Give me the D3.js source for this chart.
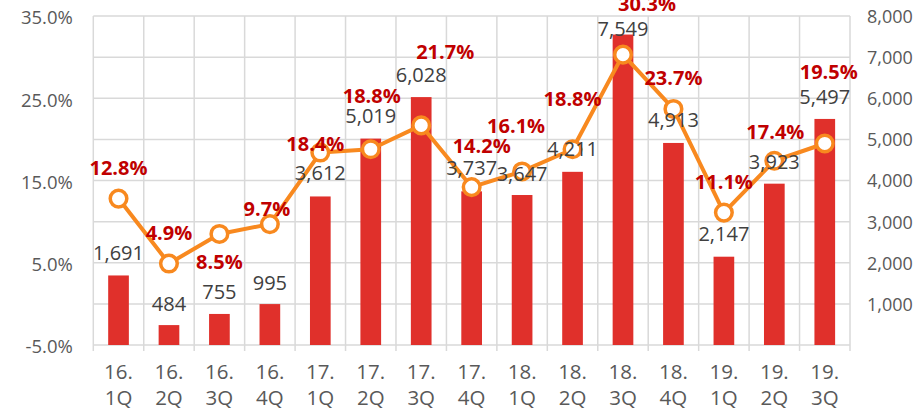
<!DOCTYPE html>
<html>
<head>
<meta charset="utf-8">
<script src="https://cdn.jsdelivr.net/npm/d3@7"></script>
<style>
  html, body { margin: 0; padding: 0; background: #ffffff; }
  svg { display: block; }
  text { font-family: "Open Sans", "Lato", sans-serif; }
</style>
</head>
<body>
<svg id="chart" width="918" height="410"></svg>
<script>
// ---- data ----
const categories = ["16.\n1Q","16.\n2Q","16.\n3Q","16.\n4Q","17.\n1Q","17.\n2Q","17.\n3Q","17.\n4Q",
                    "18.\n1Q","18.\n2Q","18.\n3Q","18.\n4Q","19.\n1Q","19.\n2Q","19.\n3Q"];
const barValues = [1691, 484, 755, 995, 3612, 5019, 6028, 3737, 3647, 4211, 7549, 4913, 2147, 3923, 5497];
const pctValues = [12.8, 4.9, 8.5, 9.7, 18.4, 18.8, 21.7, 14.2, 16.1, 18.8, 30.3, 23.7, 11.1, 17.4, 19.5];
const leftTicks = [-5, 5, 15, 25, 35];
const rightTicks = [1000, 2000, 3000, 4000, 5000, 6000, 7000, 8000];

// ---- label nudges (layout, in px) ----
const pctLabelDx = [0, 0, 0, -3, -5, 1, 24, 10, -6, 0, 24, 0, 0, 1, 4];
const pctLabelDy = [-31, -31, 28, -16, -9, -54, -74, -42, -46, -51, -51, -31, -31, -29, -72];
const valLabelDy = [-23, -22, -22, -22, -24, -23, -23, -24, -22, -23, -6, -23, -23, -22, -22];

// ---- layout ----
const plot = { left: 93.3, right: 850, top: 16, bottom: 345 };
const svg = d3.select("#chart");

const xGrid = d3.scaleBand().domain(categories).range([plot.left, plot.right]).padding(0);
const x = d3.scaleBand().domain(categories).range([plot.left, plot.right])
  .paddingInner(0.59).paddingOuter(0.295);
const yL = d3.scaleLinear().domain([-5, 35]).range([plot.bottom, plot.top]);
const yR = d3.scaleLinear().domain([0, 8000]).range([plot.bottom, plot.top]);

const gridColor = "#d9d9d9";

// horizontal gridlines
svg.append("g").selectAll("line")
  .data(d3.range(0, 8001, 1000))
  .join("line")
  .attr("x1", plot.left).attr("x2", plot.right)
  .attr("y1", d => yR(d)).attr("y2", d => yR(d))
  .attr("stroke", gridColor).attr("stroke-width", 1.5);

// vertical gridlines + tick marks
const bounds = categories.map(c => xGrid(c)).concat([plot.right]);
svg.append("g").selectAll("line")
  .data(bounds)
  .join("line")
  .attr("x1", d => d).attr("x2", d => d)
  .attr("y1", plot.top).attr("y2", plot.bottom + 6)
  .attr("stroke", gridColor).attr("stroke-width", 1.5);

// bars
svg.append("g").selectAll("rect")
  .data(barValues)
  .join("rect")
  .attr("x", (d, i) => x(categories[i]))
  .attr("width", x.bandwidth())
  .attr("y", d => yR(d))
  .attr("height", d => yR(0) - yR(d))
  .attr("fill", "#e0302b");

// line
const cx = i => xGrid(categories[i]) + xGrid.bandwidth() / 2;
const line = d3.line().x((d, i) => cx(i)).y(d => yL(d));
svg.append("path")
  .datum(pctValues)
  .attr("d", line)
  .attr("fill", "none")
  .attr("stroke", "#f8891f")
  .attr("stroke-width", 4)
  .attr("stroke-linejoin", "round");

svg.append("g").selectAll("circle")
  .data(pctValues)
  .join("circle")
  .attr("cx", (d, i) => cx(i))
  .attr("cy", d => yL(d))
  .attr("r", 8.3)
  .attr("fill", "#ffffff")
  .attr("stroke", "#f8891f")
  .attr("stroke-width", 3.5);

// value labels
svg.append("g").selectAll("text")
  .data(barValues)
  .join("text")
  .attr("x", (d, i) => cx(i))
  .attr("y", (d, i) => yR(d) + valLabelDy[i])
  .attr("text-anchor", "middle")
  .attr("dominant-baseline", "central")
  .attr("font-size", 20)
  .attr("fill", "#404040")
  .text(d => d3.format(",")(d));

// percent labels
svg.append("g").selectAll("text")
  .data(pctValues)
  .join("text")
  .attr("x", (d, i) => cx(i) + pctLabelDx[i])
  .attr("y", (d, i) => yL(d) + pctLabelDy[i])
  .attr("text-anchor", "middle")
  .attr("dominant-baseline", "central")
  .attr("font-size", 20)
  .attr("font-weight", "bold")
  .attr("fill", "#c00000")
  .text(d => d.toFixed(1) + "%");

// left axis
const axL = svg.append("g")
  .attr("transform", `translate(${plot.left - 20.5},0)`)
  .call(d3.axisLeft(yL).tickValues(leftTicks).tickSize(0).tickPadding(0)
    .tickFormat(d => d.toFixed(1) + "%"));
axL.select(".domain").remove();
axL.selectAll("text").attr("font-size", 18.5).attr("fill", "#595959")
  .attr("font-family", "'Open Sans', sans-serif").attr("dy", "0.42em");

// right axis
const axR = svg.append("g")
  .attr("transform", `translate(${plot.right + 17},0)`)
  .call(d3.axisRight(yR).tickValues(rightTicks).tickSize(0).tickPadding(0)
    .tickFormat(d3.format(",")));
axR.select(".domain").remove();
axR.selectAll("text").attr("font-size", 18).attr("fill", "#595959")
  .attr("font-family", "'Open Sans', sans-serif").attr("dy", "0.36em");

// bottom axis (category labels on two lines)
const axB = svg.append("g")
  .attr("transform", `translate(0,${plot.bottom})`)
  .call(d3.axisBottom(xGrid).tickSize(0).tickPadding(0));
axB.select(".domain").remove();
axB.selectAll("text").each(function(d) {
  const t = d3.select(this);
  const parts = d.split("\n");
  t.text(null)
    .attr("y", 0).attr("dy", null)
    .attr("font-size", 20.5).attr("fill", "#595959")
    .attr("font-family", "'Open Sans', sans-serif");
  t.append("tspan").attr("x", 0).attr("y", 34).text(parts[0]);
  t.append("tspan").attr("x", 0).attr("y", 60).text(parts[1]);
});
</script>
</body>
</html>
